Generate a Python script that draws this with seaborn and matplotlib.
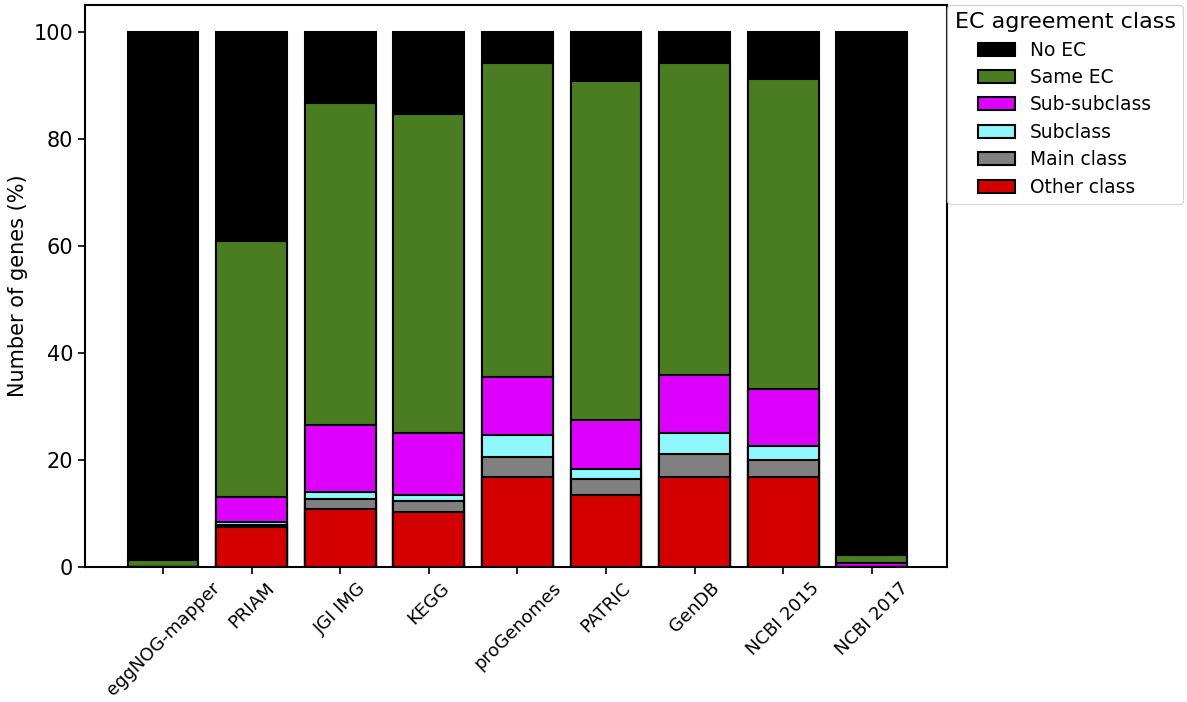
import numpy as np
import pandas as pd
import matplotlib
matplotlib.use('Agg')
import matplotlib.pyplot as plt
import seaborn as sns
from matplotlib.patches import Patch

tools = ['eggNOG-mapper', 'PRIAM', 'JGI IMG', 'KEGG', 'proGenomes',
         'PATRIC', 'GenDB', 'NCBI 2015', 'NCBI 2017']

# stacked from bottom to top
other_class = [0.0, 7.5, 10.8, 10.4, 16.8, 13.4, 16.8, 16.8, 0.0]
main_class = [0.0, 0.4, 2.0, 2.0, 3.8, 3.1, 4.3, 3.3, 0.0]
subclass = [0.0, 0.5, 1.3, 1.0, 4.0, 1.9, 3.9, 2.5, 0.0]
sub_subclass = [0.0, 4.7, 12.4, 11.6, 10.9, 9.0, 10.9, 10.7, 0.8]
same_ec = [1.3, 47.8, 60.2, 59.7, 58.7, 63.3, 58.3, 57.9, 1.5]
no_ec = [98.7, 39.1, 13.3, 15.3, 5.8, 9.3, 5.8, 8.8, 97.7]

classes = ['Other class', 'Main class', 'Subclass', 'Sub-subclass', 'Same EC', 'No EC']
colors = ['#d40000', '#808080', '#8ff8fc', '#dd00ff', '#4a7d22', '#000000']

df = pd.DataFrame({'tool': tools, 'Other class': other_class, 'Main class': main_class,
                   'Subclass': subclass, 'Sub-subclass': sub_subclass,
                   'Same EC': same_ec, 'No EC': no_ec})
cum = df[classes].cumsum(axis=1)

fig = plt.figure(figsize=(11.87, 7.02), dpi=100)
ax = fig.add_axes([0.0716, 0.192, 0.7264, 0.801])

# draw cumulative totals, tallest first, so each layer covers the one below
for cls, col in reversed(list(zip(classes, colors))):
    sns.barplot(x=df['tool'], y=cum[cls], color=col, edgecolor='black',
                linewidth=1.5, width=0.8, saturation=1, ax=ax)

ax.set_ylim(0, 105)
ax.set_xlim(-0.88, 8.85)
ax.set_xlabel('')
ax.set_ylabel('Number of genes (%)', fontsize=15)
ax.tick_params(axis='y', labelsize=15, width=1.2, length=5)
ax.tick_params(axis='x', labelsize=13, width=1.2, length=5)
plt.setp(ax.get_xticklabels(), rotation=45, ha='center')
for sp in ax.spines.values():
    sp.set_linewidth(1.5)

handles = [Patch(facecolor=c, edgecolor='black', linewidth=1.5, label=l)
           for l, c in reversed(list(zip(classes, colors)))]
ax.legend(handles=handles, title='EC agreement class', loc='upper left',
          bbox_to_anchor=(1.0, 1.0), borderaxespad=0.0, fontsize=13.4,
          title_fontsize=16, labelspacing=0.45)

fig.savefig('out.png', dpi=100)
